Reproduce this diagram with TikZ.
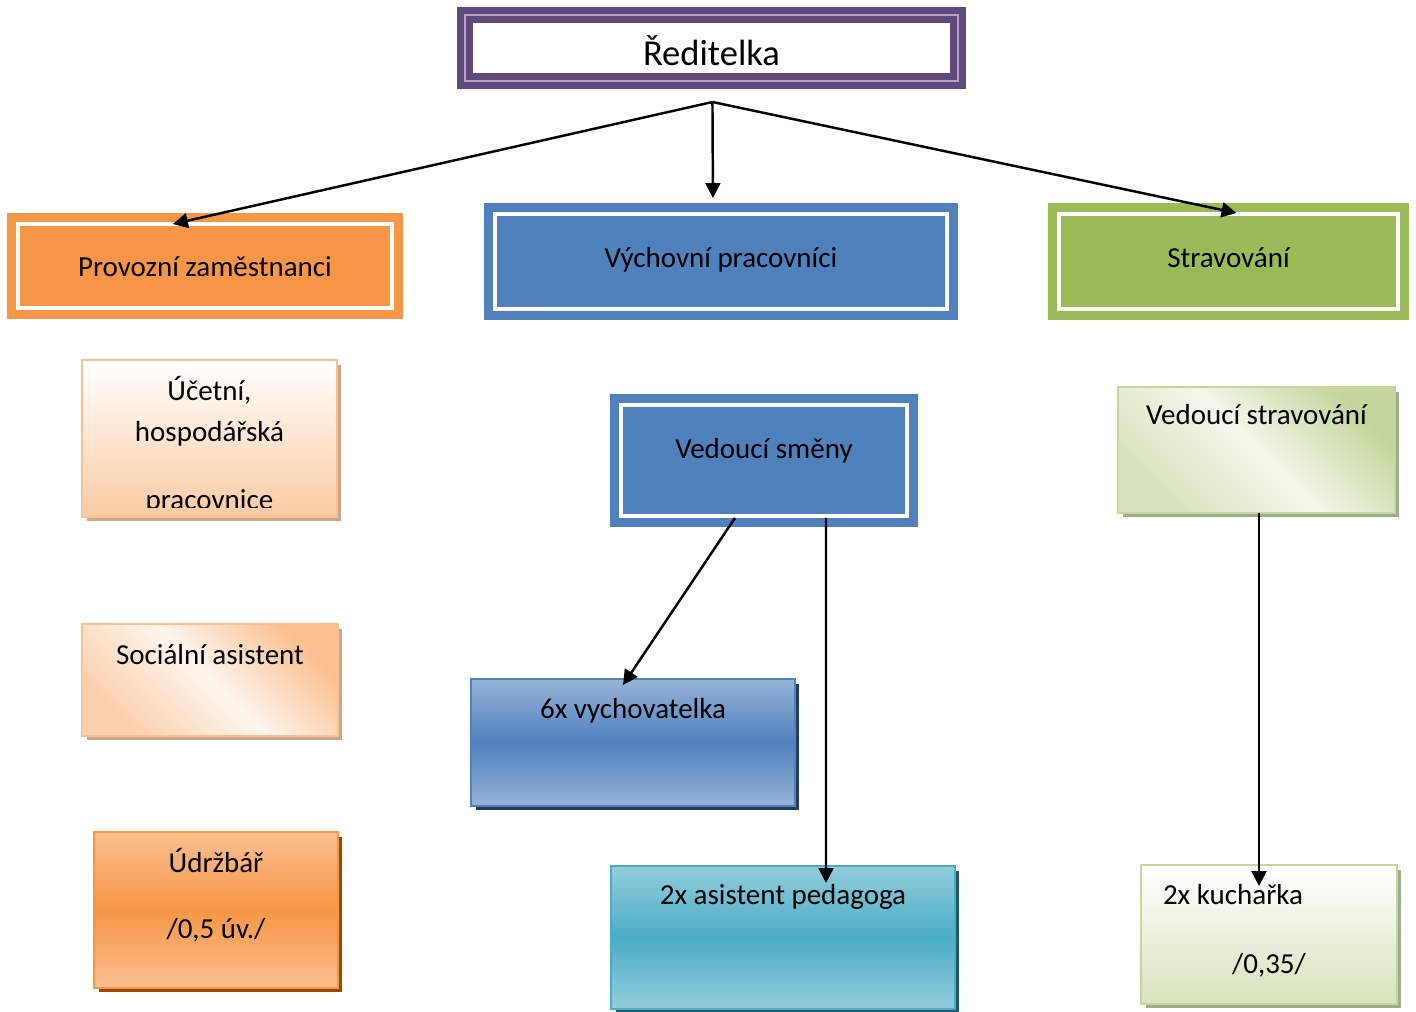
\documentclass[tikz,border=0pt]{standalone}
\usepackage{fontspec}
\setmainfont{Carlito}
\usetikzlibrary{calc,shadows,arrows.meta}

\definecolor{headpurple}{HTML}{5F497A}
\definecolor{headline}{HTML}{B3A2C7}
\definecolor{offorange}{HTML}{F79646}
\definecolor{offorangelight}{HTML}{FAC090}
\definecolor{offbrown}{HTML}{984807}
\definecolor{offblue}{HTML}{4F81BD}
\definecolor{offbluelight}{HTML}{95B3D7}
\definecolor{offbluedark}{HTML}{243F60}
\definecolor{offaqua}{HTML}{4BACC6}
\definecolor{offaqualight}{HTML}{92CDDC}
\definecolor{offaquadark}{HTML}{215868}
\definecolor{offgreen}{HTML}{9BBB59}
\definecolor{offgreenlight}{HTML}{C3D69B}
\definecolor{offgreenpale}{HTML}{D7E3BC}
\definecolor{peachshade}{RGB}{200,168,136}
\definecolor{greenshade}{RGB}{160,170,140}

\begin{document}
\begin{tikzpicture}[x=0.02cm, y=-0.02cm,
  every node/.style={font=\fontsize{16.5}{20}\selectfont, inner sep=0pt, outer sep=0pt, anchor=north west},
  dirbox/.style={fill=white, draw=headpurple, line width=4pt, double=headline, double distance=0.85pt},
  headbox/.style={fill=#1, draw=#1, line width=5pt, double=white, double distance=2.2pt},
  fadebox/.style={draw=#1, line width=1pt},
  boxshadow/.style={drop shadow={shadow xshift=0.09cm, shadow yshift=-0.09cm, fill=#1, opacity=1}},
  conn/.style={line width=1.4pt, -{Triangle[length=8.5pt, width=8.5pt]}}]
\useasboundingbox (0,0) rectangle (1416,1011);

% TOP ROW
\node[dirbox, minimum width=9.86cm, text height=1.02cm, text depth=0.30cm,
  font=\fontsize{20.8}{25}\selectfont] (dir) at (465,15) {Ředitelka};
\node[headbox=offorange, minimum width=7.48cm, text height=1.06cm, text depth=0.62cm] (prov) at (18,224) {Provozní zaměstnanci};
\node[headbox=offblue, minimum width=9.04cm, text height=1.08cm, text depth=0.82cm] (vych) at (495,214) {Výchovní pracovníci};
\node[headbox=offgreen, minimum width=6.78cm, text height=1.08cm, text depth=0.82cm] (strav) at (1059,214) {Stravování};

% LEFT COLUMN
\node[fadebox=offorangelight, top color=white, bottom color=offorange!50!white, boxshadow=peachshade,
  minimum width=5.10cm, minimum height=3.14cm] (acct) at (82,360) {};
\begin{scope}
\clip (acct.north west) rectangle ($(acct.south east)+(0,-9)$);
\node[anchor=base, align=center, font=\fontsize{16.5}{23.3}\selectfont] (acct text) at ($(acct.north)+(0,149)$)
  {Účetní,\\hospodářská\\[15pt]pracovnice};
\end{scope}
\node[fadebox=offorangelight, top color=offorangelight, bottom color=offorange!45!white, middle color=offorange!10!white,
  shading angle=-45, boxshadow=peachshade, minimum width=5.12cm, text height=0.80cm, text depth=1.44cm] (soc) at (82,624) {Sociální asistent};
\node[fadebox=offorange, top color=offorangelight, bottom color=offorangelight, middle color=offorange, boxshadow=offbrown,
  minimum width=4.88cm, text height=2.14cm, text depth=0.98cm, align=center] (udr) at (94,832) {Údržbář\\[18pt]/0,5 úv./};

% MIDDLE COLUMN
\node[headbox=offblue, minimum width=5.72cm, text height=1.08cm, text depth=1.14cm] (vs) at (621,405) {Vedoucí směny};
\node[fadebox=offblue, top color=offbluelight, bottom color=offbluelight, middle color=offblue, boxshadow=offbluedark,
  minimum width=6.48cm, text height=0.78cm, text depth=1.76cm] (vy6) at (471,679) {6x vychovatelka};
\node[fadebox=offaqua, top color=offaqualight, bottom color=offaqualight, middle color=offaqua, boxshadow=offaquadark,
  minimum width=6.88cm, text height=0.76cm, text depth=2.10cm] (asp) at (611,866) {2x asistent pedagoga};

% RIGHT COLUMN
\node[fadebox=offgreenlight, top color=offgreenlight, bottom color=offgreenpale, middle color=offgreen!12!white,
  shading angle=-45, boxshadow=greenshade, minimum width=5.54cm, text height=0.76cm, text depth=1.76cm] (vstr) at (1118,387) {Vedoucí stravování};
\node[fadebox=offgreenlight, top color=white, bottom color=offgreenpale, boxshadow=greenshade,
  minimum width=5.12cm, text height=2.18cm, text depth=0.60cm, align=center] (kuch) at (1141,865)
  {2x kuchařka\hspace*{1.44cm}\mbox{}\\[19.5pt]/0,35/};

% ARROWS
\coordinate (split) at ($(dir.south)+(1,21)$);
\draw[conn] (split) -- ($(prov.north west)+(155,0)$);
\draw[conn] (split) -- ($(vych.north)+(-8,-16)$);
\draw[conn] (split) -- ($(strav.north)+(8,-1)$);
\draw[conn] ($(vs.south)+(-29,2)$) -- ($(vy6.north west)+(152,6)$);
\draw[conn] ($(vs.south)+(62,2)$) -- ($(asp.north west)+(215,17)$);
\draw[conn] ($(vstr.south west)+(141,0)$) -- ($(kuch.north west)+(118,21)$);
\end{tikzpicture}
\end{document}
